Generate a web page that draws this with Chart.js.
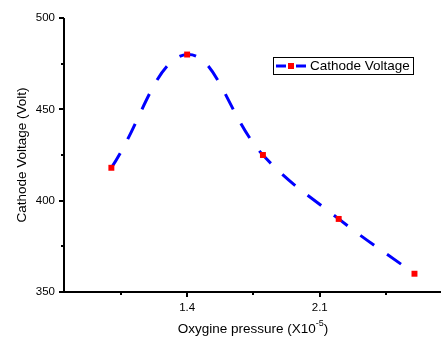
<!DOCTYPE html>
<html><head><meta charset="utf-8">
<script src="https://cdn.jsdelivr.net/npm/chart.js@4/dist/chart.umd.min.js"></script>
<style>html,body{margin:0;padding:0;background:#fff;}#wrap{width:441px;height:338px;position:relative;}</style>
</head><body><div id="wrap"><canvas id="c" width="441" height="338"></canvas></div>
<script>
const pressure = [1.0, 1.4, 1.8, 2.2, 2.6];
const voltage = [418, 480, 425, 390, 360];
const xTicks = [1.05, 1.4, 1.75, 2.1, 2.45];
const xLabels = ['', '1.4', '', '2.1', ''];
const yTicks = [350, 375, 400, 425, 450, 475, 500];
const yLabels = ['350', '', '400', '', '450', '', '500'];
const seriesName = 'Cathode Voltage';
const xTitle = 'Oxygine pressure (X10';
const xTitleSup = '-5';
const xTitleEnd = ')';
const yTitle = 'Cathode Voltage (Volt)';

const FONT = '"Liberation Sans", Arial, sans-serif';

const decor = {
  id: 'decor',
  afterDraw(chart) {
    const ctx = chart.ctx;
    const a = chart.chartArea;
    const xs = chart.scales.x, ys = chart.scales.y;
    ctx.save();
    ctx.strokeStyle = '#000';
    ctx.lineWidth = 2;
    ctx.setLineDash([]);
    ctx.beginPath();
    ctx.moveTo(a.left, a.top);
    ctx.lineTo(a.left, a.bottom);
    ctx.lineTo(a.right, a.bottom);
    ctx.stroke();
    xTicks.forEach((v, i) => {
      const px = Math.round(xs.getPixelForValue(v));
      const len = xLabels[i] ? 5 : 3;
      ctx.beginPath();
      ctx.moveTo(px, a.bottom);
      ctx.lineTo(px, a.bottom + len);
      ctx.stroke();
    });
    yTicks.forEach((v, i) => {
      const py = Math.round(ys.getPixelForValue(v));
      const len = yLabels[i] ? 5 : 3;
      ctx.beginPath();
      ctx.moveTo(a.left, py);
      ctx.lineTo(a.left - len, py);
      ctx.stroke();
    });
    ctx.fillStyle = '#000';
    ctx.textBaseline = 'middle';
    ctx.textAlign = 'left';
    const mainF = '13.5px ' + FONT, supF = '9px ' + FONT;
    ctx.font = mainF; const w1 = ctx.measureText(xTitle).width; const w3 = ctx.measureText(xTitleEnd).width;
    ctx.font = supF; const w2 = ctx.measureText(xTitleSup).width;
    const total = w1 + w2 + w3;
    const sx = 253 - total / 2;
    const ty = 329;
    ctx.font = mainF; ctx.fillText(xTitle, sx, ty);
    ctx.font = supF; ctx.fillText(xTitleSup, sx + w1, ty - 5);
    ctx.font = mainF; ctx.fillText(xTitleEnd, sx + w1 + w2, ty);
    ctx.save();
    ctx.translate(22, (a.top + a.bottom) / 2);
    ctx.rotate(-Math.PI / 2);
    ctx.textAlign = 'center';
    ctx.font = mainF;
    ctx.fillText(yTitle, 0, 0);
    ctx.restore();
    ctx.lineWidth = 1;
    ctx.strokeStyle = '#000';
    ctx.strokeRect(273.5, 57.5, 140, 17);
    ctx.strokeStyle = '#0000ff';
    ctx.lineWidth = 3;
    ctx.beginPath();
    ctx.moveTo(276, 66); ctx.lineTo(286, 66);
    ctx.moveTo(296, 66); ctx.lineTo(306, 66);
    ctx.stroke();
    ctx.fillStyle = '#ff0000';
    ctx.fillRect(288, 63, 6, 6);
    ctx.fillStyle = '#000';
    ctx.font = mainF;
    ctx.textAlign = 'left';
    ctx.fillText(seriesName, 310, 66.5);
    ctx.restore();
  }
};

new Chart(document.getElementById('c'), {
  type: 'line',
  data: {
    datasets: [{
      label: seriesName,
      data: pressure.map((p, i) => ({ x: p, y: voltage[i] })),
      borderColor: '#0000ff',
      borderWidth: 3,
      borderDash: [17, 16],
      borderCapStyle: 'butt',
      tension: 0.4,
      fill: false,
      pointStyle: 'rect',
      pointRadius: 4.2,
      pointBackgroundColor: '#ff0000',
      pointBorderWidth: 0,
      clip: false
    }]
  },
  options: {
    responsive: false,
    animation: false,
    devicePixelRatio: 1,
    layout: { autoPadding: false, padding: { top: 18, right: 0, left: 0, bottom: 0 } },
    plugins: { legend: { display: false }, tooltip: { enabled: false } },
    scales: {
      x: {
        type: 'linear', min: 0.75, max: 2.74,
        afterFit: s => { s.height = 46; s.paddingLeft = 0; s.paddingRight = 0; },
        afterBuildTicks: s => { s.ticks = xTicks.map(v => ({ value: v })); },
        grid: { display: false, drawTicks: true, tickLength: 5 },
        border: { display: false },
        ticks: { autoSkip: false, maxRotation: 0, padding: 4, color: '#000',
          font: { family: FONT, size: 11.5 },
          callback: (v, i) => xLabels[i] }
      },
      y: {
        type: 'linear', min: 350, max: 500,
        afterFit: s => { s.width = 64; s.paddingTop = 0; s.paddingBottom = 0; },
        afterBuildTicks: s => { s.ticks = yTicks.map(v => ({ value: v })); },
        grid: { display: false, drawTicks: true, tickLength: 5 },
        border: { display: false },
        ticks: { autoSkip: false, padding: 4, color: '#000',
          font: { family: FONT, size: 11.5 },
          callback: (v, i) => yLabels[i] }
      }
    }
  },
  plugins: [decor]
});
</script></body></html>
